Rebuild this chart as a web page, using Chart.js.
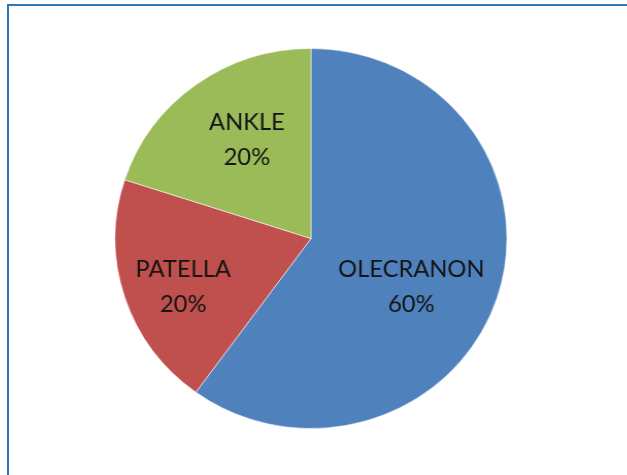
<!DOCTYPE html>
<html>
<head>
<meta charset="utf-8">
<script src="https://cdn.jsdelivr.net/npm/chart.js@4/dist/chart.umd.min.js"></script>
<style>
  html, body { margin: 0; padding: 0; background: #fff; overflow: hidden; }
  #wrap { position: relative; width: 627px; height: 475px; }
  #frame { position: absolute; left: 7px; top: 4px; width: 640px; height: 500px;
           border-top: 2px solid #2f76b7; border-left: 2px solid #2f76b7; }
  #box { position: absolute; left: 0; top: 0; width: 627px; height: 475px;
         transform: scaleX(1.031); transform-origin: 311px 237px; }
</style>
</head>
<body>
<div id="wrap">
  <div id="frame"></div>
  <div id="box"><canvas id="c"></canvas></div>
</div>
<script>
const categories = ['OLECRANON', 'PATELLA', 'ANKLE'];
const values = [60, 20, 20];
const percentLabels = ['60%', '20%', '20%'];
const sliceColors = ['#4f81bd', '#c0504d', '#9bbb59'];

// label anchor tweaks per slice: angle shift (deg) and fraction of radius
const labelAnchors = [
  { angle: 8.3, frac: 0.571 },
  { angle: -3.3, frac: 0.70 },
  { angle: 3.9, frac: 0.616 }
];

const labelPlugin = {
  id: 'sliceLabels',
  afterDatasetsDraw(chart) {
    const ctx = chart.ctx;
    const meta = chart.getDatasetMeta(0);
    ctx.save();
    ctx.font = '23px Lato, "Open Sans", sans-serif';
    ctx.fillStyle = '#141414';
    ctx.textAlign = 'center';
    ctx.textBaseline = 'middle';
    meta.data.forEach((arc, i) => {
      const p = arc.getProps(['x', 'y', 'startAngle', 'endAngle', 'outerRadius'], true);
      const mid = (p.startAngle + p.endAngle) / 2 + labelAnchors[i].angle * Math.PI / 180;
      const r = p.outerRadius * labelAnchors[i].frac;
      const cx = p.x + Math.cos(mid) * r;
      const cy = p.y + Math.sin(mid) * r;
      ctx.fillText(categories[i], cx, cy - 17);
      ctx.fillText(percentLabels[i], cx, cy + 18);
    });
    ctx.restore();
  }
};

new Chart(document.getElementById('c'), {
  type: 'pie',
  data: {
    labels: categories,
    datasets: [{
      data: values,
      backgroundColor: sliceColors,
      borderColor: 'rgba(255,255,255,0.55)',
      borderWidth: 1
    }]
  },
  options: {
    responsive: true,
    maintainAspectRatio: false,
    animation: false,
    layout: { padding: { left: 0, right: 5, top: 48, bottom: 46 } },
    plugins: { legend: { display: false }, tooltip: { enabled: false } }
  },
  plugins: [labelPlugin]
});
</script>
</body>
</html>
